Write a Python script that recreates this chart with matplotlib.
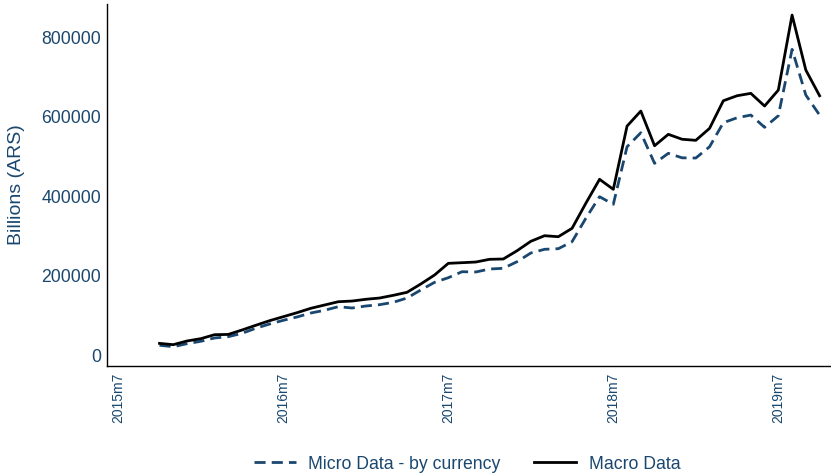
import numpy as np
import matplotlib
matplotlib.use('Agg')
import matplotlib.pyplot as plt

plt.rcParams['font.family'] = ['Liberation Sans', 'DejaVu Sans']

NAVY = '#1a476f'

# monthly series, 2015m10 .. 2019m10 (billions ARS)
start_month = 3  # months after 2015m7
macro = [30000, 26700, 36000, 41800, 51800, 52500, 63600, 75500, 87000, 97100,
         107200, 118200, 126500, 134800, 136500, 140900, 144100, 150900, 158500, 179400,
         202000, 231400, 233000, 234700, 241500, 242300, 263100, 286800, 300900, 298400,
         319500, 382400, 442800, 417600, 576800, 614600, 527300, 556000, 543600, 540900,
         571100, 640500, 653100, 659100, 627200, 667400, 856100, 717700, 653100]
micro = [25200, 21600, 29200, 35200, 43500, 46800, 55300, 67900, 78700, 88000,
         96400, 106400, 113200, 122300, 119000, 124000, 127300, 133300, 144100, 164300,
         183600, 195200, 210300, 209600, 217100, 218900, 235500, 257400, 266700, 268200,
         285800, 344700, 399000, 379900, 524800, 560000, 483000, 508200, 496900, 496400,
         524800, 585200, 597700, 604500, 573600, 602800, 769800, 654800, 604500]

tick_labels = ['2015m7', '2016m7', '2017m7', '2018m7', '2019m7']
tick_pos = [0, 12, 24, 36, 48]

months = np.arange(len(macro)) + start_month

fig = plt.figure(figsize=(8.31, 4.74), dpi=100)
ax = fig.add_axes([0.1284, 0.2278, 0.8716, 0.7638])

ax.plot(months, micro, color=NAVY, lw=2.0, dashes=(4, 2.2), label='Micro Data - by currency')
ax.plot(months, macro, color='black', lw=2.0, label='Macro Data')

ax.set_xlim(-0.84, 51.83)
ax.set_ylim(-27000, 884000)
ax.set_yticks([0, 200000, 400000, 600000, 800000])
ax.set_yticklabels(['0', '200000', '400000', '600000', '800000'], fontsize=12.7, color=NAVY)
ax.set_xticks(tick_pos)
ax.set_xticklabels(tick_labels, rotation=90, fontsize=10, color=NAVY)
ax.tick_params(axis='both', length=0)
ax.tick_params(axis='x', pad=5)
ax.tick_params(axis='y', pad=4)
ax.set_ylabel('Billions (ARS)', fontsize=14, color=NAVY, labelpad=12)

for s in ['top', 'right']:
    ax.spines[s].set_visible(False)
for s in ['left', 'bottom']:
    ax.spines[s].set_linewidth(1.0)

leg = fig.legend(loc='center', bbox_to_anchor=(0.562, 0.021), ncol=2, frameon=False,
                 fontsize=12.7, handlelength=2.4, handletextpad=0.7, columnspacing=1.9)
for t in leg.get_texts():
    t.set_color(NAVY)

fig.savefig('out.png', dpi=100)
